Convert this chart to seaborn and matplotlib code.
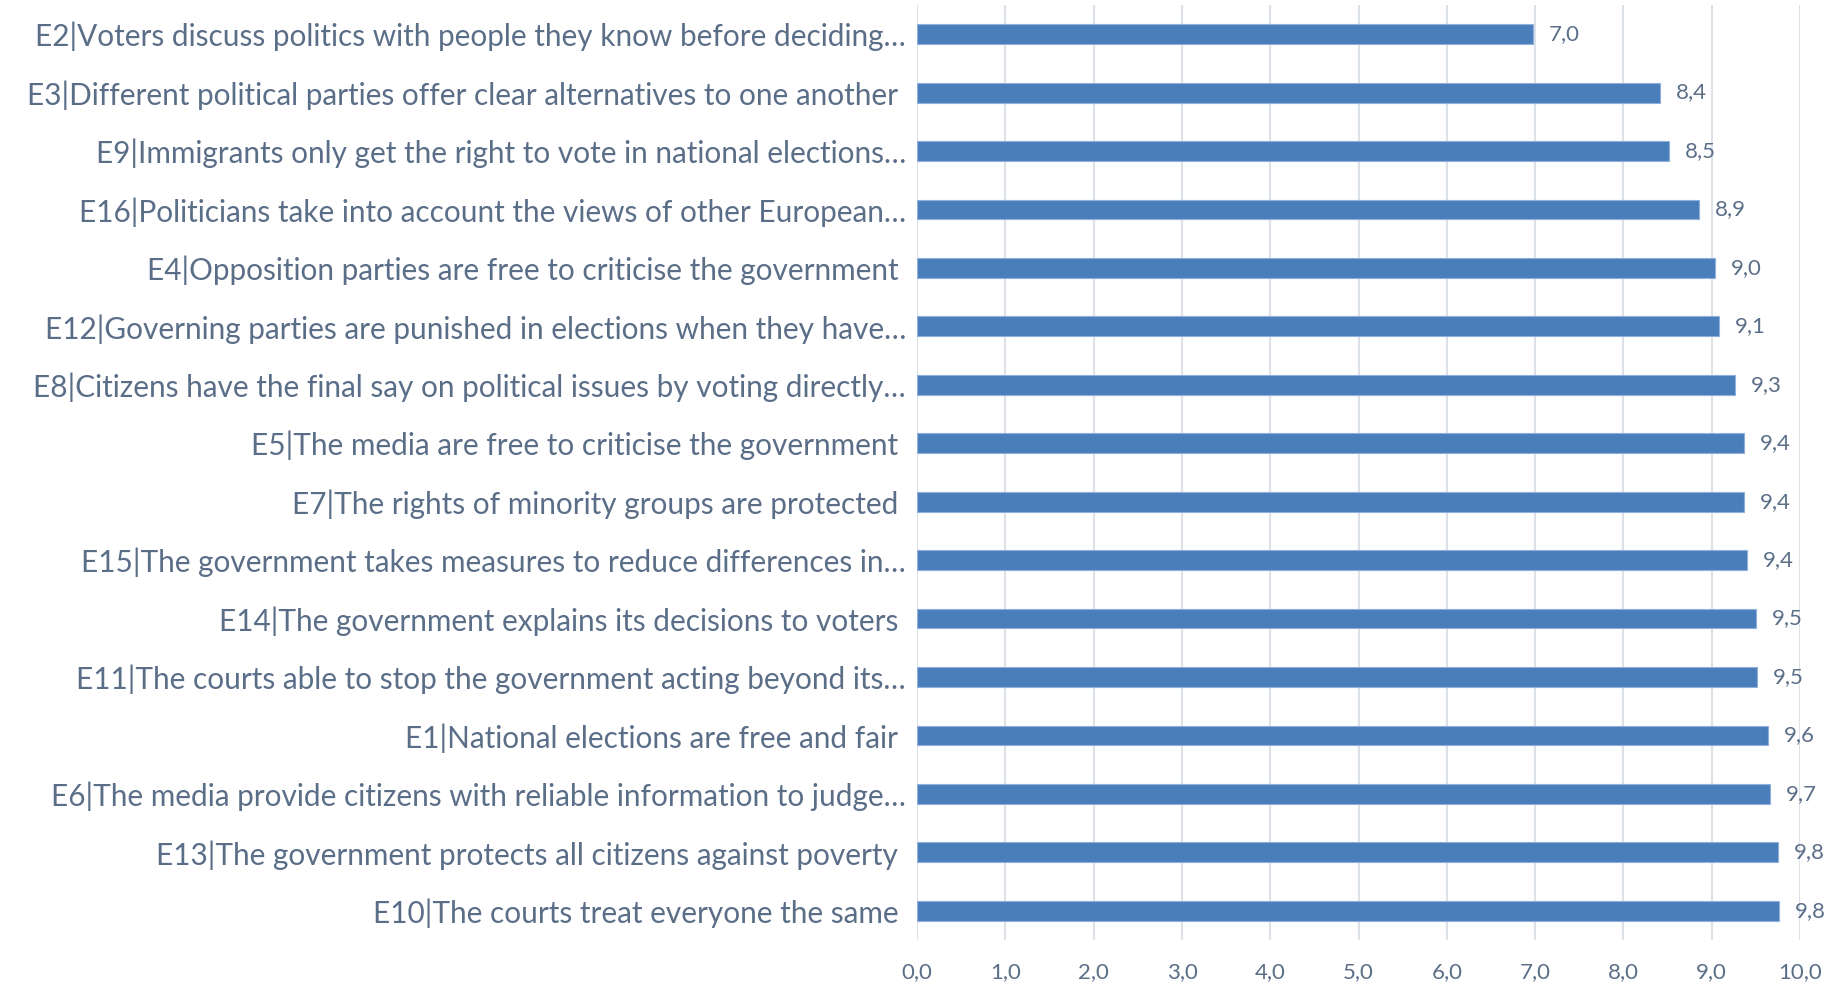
import matplotlib
matplotlib.use("Agg")
import matplotlib.pyplot as plt
from matplotlib import font_manager
import seaborn as sns
import pandas as pd

# Items (top to bottom) and mean scores
items = [
    "E2|Voters discuss politics with people they know before deciding…",
    "E3|Different political parties offer clear alternatives to one another ",
    "E9|Immigrants only get the right to vote in national elections…",
    "E16|Politicians take into account the views of other European…",
    "E4|Opposition parties are free to criticise the government ",
    "E12|Governing parties are punished in elections when they have…",
    "E8|Citizens have the final say on political issues by voting directly…",
    "E5|The media are free to criticise the government ",
    "E7|The rights of minority groups are protected ",
    "E15|The government takes measures to reduce differences in…",
    "E14|The government explains its decisions to voters ",
    "E11|The courts able to stop the government acting beyond its…",
    "E1|National elections are free and fair ",
    "E6|The media provide citizens with reliable information to judge…",
    "E13|The government protects all citizens against poverty ",
    "E10|The courts treat everyone the same ",
]
scores = [6.97, 8.41, 8.51, 8.86, 9.04, 9.08, 9.26, 9.36, 9.36, 9.40,
          9.50, 9.51, 9.64, 9.66, 9.75, 9.76]
x_ticks = [0, 1, 2, 3, 4, 5, 6, 7, 8, 9, 10]

df = pd.DataFrame({"item": items, "score": scores})

sns.set_style("white")
available = {f.name for f in font_manager.fontManager.ttflist}
main_font = "Liberation Sans Narrow" if "Liberation Sans Narrow" in available else "Lato"
plt.rcParams["font.family"] = [main_font, "DejaVu Sans"]

text_col = "#5b6e88"
bar_col = "#4a7ebb"

fig = plt.figure(figsize=(18.29, 9.85), dpi=100)
ax = fig.add_axes([0.5014, 0.0457, 0.4828, 0.9493])

sns.barplot(data=df, x="score", y="item", orient="h", color=bar_col,
            saturation=1, width=0.34, ax=ax, zorder=3)

for patch in ax.patches:
    patch.set_edgecolor("#8fb0da")
    patch.set_linewidth(0.8)

for i, v in enumerate(scores):
    ax.text(v + 0.18, i, f"{v:.1f}".replace(".", ","), va="center", ha="left",
            fontsize=16, color=text_col)

ax.set_xlim(0, 10)
ax.set_xticks(x_ticks)
ax.set_xticklabels([f"{t:.1f}".replace(".", ",") for t in x_ticks])
ax.set_xlabel("")
ax.set_ylabel("")
ax.grid(axis="x", color="#dde1e8", linewidth=1.5, zorder=0)
ax.grid(axis="y", visible=False)
for s in ax.spines.values():
    s.set_visible(False)
ax.tick_params(axis="x", length=0, pad=16, labelsize=16, labelcolor=text_col)
ax.tick_params(axis="y", length=0, pad=8, labelsize=21.4, labelcolor=text_col)
ax.set_ylim(len(items) - 0.5, -0.5)

fig.savefig("out.png", dpi=100)
